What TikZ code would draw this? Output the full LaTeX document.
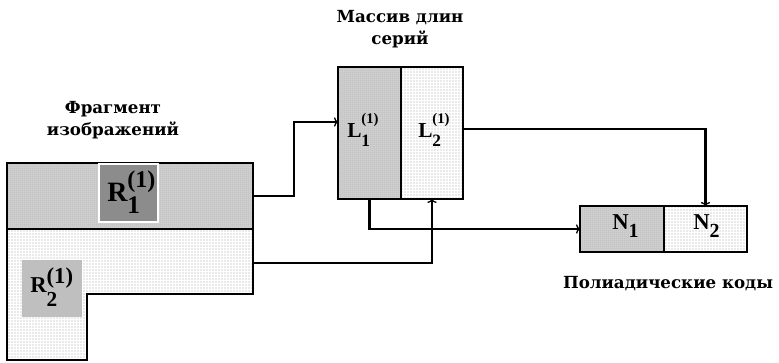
\documentclass[tikz,border=0pt]{standalone}
\usepackage{fontspec}
\setmainfont{Liberation Serif}
\newfontfamily\capfont{DejaVu Serif}
\usetikzlibrary{arrows.meta,patterns.meta}
\tikzdeclarepattern{
  name=sparsedots, type=uncolored,
  bottom left={(-1pt,-1pt)}, top right={(1.25pt,1.25pt)},
  tile size={(2.25pt,2.25pt)},
  code={\fill (0pt,0pt) circle (0.33pt);}
}
\tikzdeclarepattern{
  name=densedots, type=uncolored,
  bottom left={(-1pt,-1pt)}, top right={(0.5pt,0.5pt)},
  tile size={(1.5pt,1.5pt)},
  code={\fill (0pt,0pt) circle (0.35pt);}
}
% #1 main, #2 sub, #3 sup, #4 main size, #5 sub size, #6 sup size, #7 sup raise, #8 sub lower
\newcommand\mylbl[8]{{\bfseries\fontsize{#4}{#4}\selectfont #1%
\rlap{\fontsize{#6}{#6}\selectfont\raisebox{#7}{#3}}%
\raisebox{-#8}{\fontsize{#5}{#5}\selectfont #2}}}
\tikzset{
  dense/.style={preaction={fill=black!18}, pattern=densedots, pattern color=black!60},
  sparse/.style={pattern=sparsedots, pattern color=black},
  cell/.style={draw, line width=2.1pt, inner sep=0pt, outer sep=0pt},
  conn/.style={line width=1.6pt, line join=miter},
  arr/.style={conn, -{To[length=3pt,width=7pt,line width=1pt]}},
  title/.style={font=\capfont\bfseries\fontsize{12.5pt}{16.5pt}\selectfont, align=center, inner sep=0pt},
  lab/.style={inner sep=0pt, anchor=base west}
}
\begin{document}
\begin{tikzpicture}[x=0.75pt,y=-0.75pt]
\useasboundingbox (0,0) rectangle (779,363);
% fragment
\node[cell, dense, minimum width=184.5pt, minimum height=49.5pt] (frtop) at (130,196) {};
\draw[sparse, line width=2.1pt, line join=miter]
  (7,229) -- (253,229) -- (253,294) -- (87,294) -- (87,360) -- (7,360) -- cycle;
\coordinate (frlow) at (253,263);
\node[fill=black!45, draw=white, line width=1pt, minimum width=44.25pt, minimum height=43.5pt, inner sep=0pt] (r1box) at (128.5,193) {};
\node[fill=black!25, minimum width=45pt, minimum height=42.75pt, inner sep=0pt] (r2box) at (52,288.5) {};
\node[lab] (r1) at (107,202) {\mylbl{R}{1}{(1)}{21pt}{19pt}{18pt}{11pt}{8.5pt}};
\node[lab] (r2) at (30,293) {\mylbl{R}{2}{(1)}{17pt}{16pt}{17pt}{7pt}{10pt}};
% array of run lengths
\node[cell, dense, minimum width=47.25pt, minimum height=99pt] (L1) at (369.5,133) {};
\node[cell, sparse, minimum width=46.5pt, minimum height=99pt] (L2) at (432,133) {};
\node[lab] (l1) at (347,138) {\mylbl{L}{1}{(1)}{16pt}{13pt}{11pt}{10.5pt}{6.5pt}};
\node[lab] (l2) at (418,138) {\mylbl{L}{2}{(1)}{16pt}{13pt}{11pt}{10.5pt}{6.5pt}};
% polyadic codes
\node[cell, dense, minimum width=63pt, minimum height=34.5pt] (N1) at (622,229) {};
\node[cell, sparse, minimum width=62.25pt, minimum height=34.5pt] (N2) at (705.5,229) {};
\node[lab] (n1) at (612,230) {\mylbl{N}{1}{}{17pt}{15pt}{10pt}{0pt}{5.5pt}};
\node[lab] (n2) at (693,230) {\mylbl{N}{2}{}{17pt}{15pt}{10pt}{0pt}{5.5pt}};
% titles
\node[title] (t1) at (400,29) {Массив длин\\серий};
\node[title] (t2) at (113,120) {Фрагмент\\изображений};
\node[title] (t3) at (668,284) {Полиадические коды};
% connectors
\coordinate (a1) at (294,122);
\draw[arr] (frtop.east) -| (a1) -- (L1.west |- a1);
\draw[arr] (frlow) -| (L2.south);
\draw[arr] (L1.south) |- (N1.west);
\draw[arr] ([yshift=3pt]L2.east) -| (N2.north);
\end{tikzpicture}
\end{document}
